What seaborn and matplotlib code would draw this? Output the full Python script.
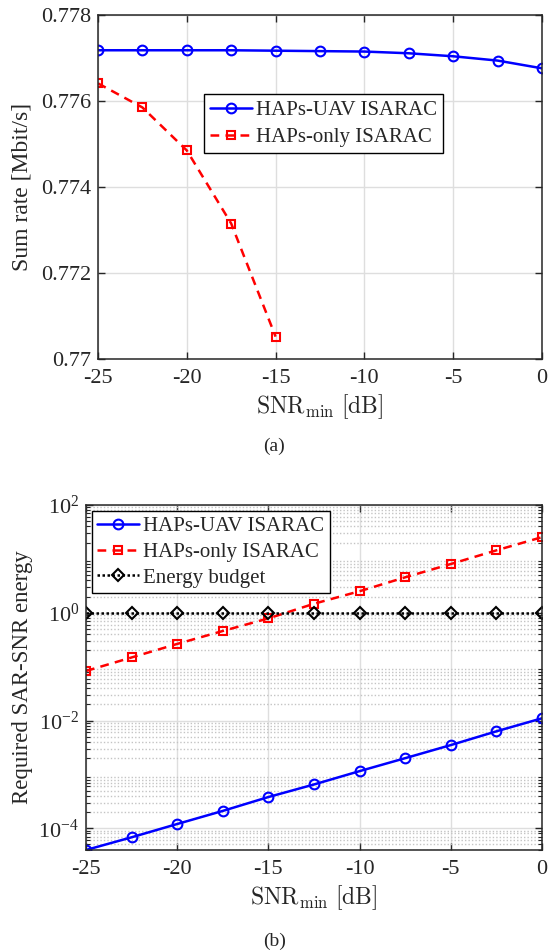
import matplotlib
matplotlib.use("Agg")
import matplotlib.pyplot as plt
import matplotlib.ticker as mticker
import seaborn as sns
import pandas as pd

# data
snr = [-25, -22.5, -20, -17.5, -15, -12.5, -10, -7.5, -5, -2.5, 0]
rate_uav = [0.77718, 0.77718, 0.77718, 0.77718, 0.77717, 0.77716, 0.77715,
            0.77711, 0.77704, 0.77694, 0.77676]
snr_only = [-25, -22.5, -20, -17.5, -15]
rate_only = [0.77641, 0.77585, 0.77485, 0.77315, 0.77052]

energy_uav = [3.95e-5, 6.8e-5, 1.2e-4, 2.1e-4, 3.8e-4, 6.5e-4, 1.15e-3,
              2.0e-3, 3.5e-3, 6.3e-3, 1.1e-2]
energy_only = [0.083, 0.148, 0.264, 0.459, 0.786, 1.47, 2.51, 4.55, 8.03,
               14.4, 25.3]
energy_budget = [1, 1, 1, 1, 1, 1, 1, 1, 1, 1, 1]

rate_ticks = [0.770, 0.772, 0.774, 0.776, 0.778]
rate_ticklabels = ["0.77", "0.772", "0.774", "0.776", "0.778"]
snr_ticks = [-25, -20, -15, -10, -5, 0]

sns.set_style("ticks")
plt.rcParams["font.family"] = ["Liberation Serif", "DejaVu Serif"]
plt.rcParams["mathtext.fontset"] = "stix"
plt.rcParams["font.size"] = 16
plt.rcParams["axes.linewidth"] = 1.1

fig = plt.figure(figsize=(5.49, 9.52), dpi=100)
ax1 = fig.add_axes([98 / 549, 1 - 359 / 952, (542 - 98) / 549, 344 / 952])
ax2 = fig.add_axes([86 / 549, 1 - 850 / 952, (542 - 86) / 549, 345 / 952])

df_a = pd.DataFrame({"snr": snr, "rate": rate_uav})
df_b = pd.DataFrame({"snr": snr_only, "rate": rate_only})
xlab = r"$\mathrm{SNR}_{\mathrm{min}}\ [\mathrm{dB}]$"

# ---- (a) sum rate
sns.lineplot(data=df_a, x="snr", y="rate", ax=ax1, color="#0000ff", lw=1.8,
             marker="o", ms=7, mfc="none", mec="#0000ff", mew=1.5,
             label="HAPs-UAV ISARAC")
sns.lineplot(data=df_b, x="snr", y="rate", ax=ax1, color="#ff0000", lw=1.8,
             ls=(0, (3.5, 2.5)), marker="s", ms=6, mfc="none", mec="#ff0000",
             mew=1.5, label="HAPs-only ISARAC")
ax1.set_xlim(-25, 0)
ax1.set_ylim(0.770, 0.778)
ax1.set_xticks(snr_ticks)
ax1.set_xticklabels([str(t) for t in snr_ticks])
ax1.set_yticks(rate_ticks)
ax1.set_yticklabels(rate_ticklabels)
ax1.grid(True, color="#dedede", lw=1.0)
ax1.set_axisbelow(True)
ax1.set_xlabel(xlab, math_fontfamily="cm", fontsize=17, labelpad=3)
ax1.set_ylabel("Sum rate [Mbit/s]", fontsize=17, labelpad=6)
leg = ax1.legend(loc="upper left", bbox_to_anchor=(0.239, 0.77), fontsize=15,
                 frameon=True, fancybox=False, edgecolor="black", framealpha=1,
                 borderpad=0.3, handlelength=2.0, handletextpad=0.2,
                 labelspacing=0.35, borderaxespad=0)
leg.get_frame().set_linewidth(1.0)
fig.text(0.5, 1 - 446 / 952, "(a)", ha="center", va="center", fontsize=14)

# ---- (b) required energy
df_e = pd.DataFrame({"snr": snr, "uav": energy_uav, "only": energy_only,
                     "budget": energy_budget})
sns.lineplot(data=df_e, x="snr", y="uav", ax=ax2, color="#0000ff", lw=1.8,
             marker="o", ms=7, mfc="none", mec="#0000ff", mew=1.5,
             label="HAPs-UAV ISARAC")
sns.lineplot(data=df_e, x="snr", y="only", ax=ax2, color="#ff0000", lw=1.8,
             ls=(0, (3.5, 2.5)), marker="s", ms=6, mfc="none", mec="#ff0000",
             mew=1.5, label="HAPs-only ISARAC")
sns.lineplot(data=df_e, x="snr", y="budget", ax=ax2, color="black", lw=1.8,
             ls=(0, (1, 1)), marker="D", ms=6, mfc="none", mec="black",
             mew=1.5, label="Energy budget")
ax2.set_yscale("log")
ax2.set_xlim(-25, 0)
ax2.set_ylim(energy_uav[0], 100)
ax2.set_xticks(snr_ticks)
ax2.set_xticklabels([str(t) for t in snr_ticks])
ax2.yaxis.set_major_locator(mticker.FixedLocator([1e-4, 1e-2, 1e0, 1e2]))
ax2.yaxis.set_major_formatter(mticker.LogFormatterMathtext())
ax2.yaxis.set_minor_locator(mticker.LogLocator(base=10, subs=range(2, 10), numticks=20))
ax2.yaxis.set_minor_formatter(mticker.NullFormatter())
ax2.grid(True, which="major", color="#dedede", lw=1.0)
ax2.grid(True, which="minor", axis="y", color="#c4c4c4", lw=1.0, ls=(0, (1, 1.5)))
ax2.set_axisbelow(True)
ax2.set_xlabel(xlab, math_fontfamily="cm", fontsize=17, labelpad=3)
ax2.set_ylabel("Required SAR-SNR energy", fontsize=16.5, labelpad=4)
leg2 = ax2.legend(loc="upper left", fontsize=15, frameon=True, fancybox=False,
                  edgecolor="black", framealpha=1, borderpad=0.25,
                  handlelength=2.0, handletextpad=0.2, labelspacing=0.3,
                  borderaxespad=0.3)
leg2.get_frame().set_linewidth(1.0)
fig.text(0.5, 1 - 941 / 952, "(b)", ha="center", va="center", fontsize=14)

for ax in (ax1, ax2):
    ax.tick_params(which="both", direction="in", top=True, right=True, labelsize=16)
    ax.tick_params(which="major", length=5, width=1.0)
    ax.tick_params(which="minor", length=3, width=0.8)
    ax.tick_params(axis="x", which="major", pad=7)
    ax.tick_params(axis="y", which="major", pad=5)
    for s in ax.spines.values():
        s.set_color("#262626")
    ax.tick_params(colors="#262626", which="both")
    for lab in ax.get_xticklabels() + ax.get_yticklabels():
        lab.set_color("#262626")

fig.savefig("out.png", dpi=100)
